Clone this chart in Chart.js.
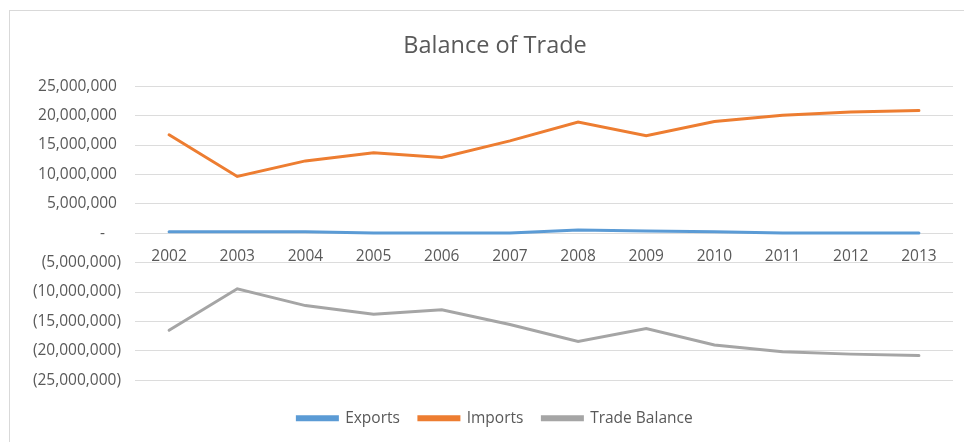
<!DOCTYPE html>
<html>
<head>
<meta charset="utf-8">
<script src="https://cdn.jsdelivr.net/npm/chart.js@4"></script>
<style>
  html, body { margin: 0; padding: 0; background: #ffffff; overflow: hidden; }
  #frame {
    position: absolute; left: 9px; top: 10px; width: 955px; height: 432px;
    border-left: 1px solid #d9d9d9; border-top: 1px solid #d9d9d9;
  }
  #wrap { position: absolute; left: 0; top: 0; width: 964px; height: 442px; overflow: hidden; }
</style>
</head>
<body>
<div id="frame"></div>
<div id="wrap"><canvas id="chart" width="980" height="442"></canvas></div>
<script>
// Years shown on the category axis
const years = ['2002', '2003', '2004', '2005', '2006', '2007', '2008', '2009', '2010', '2011', '2012', '2013'];

// Annual trade values
const exportsValues = [250000, 250000, 250000, 50000, 50000, 50000, 550000, 400000, 250000, 50000, 50000, 50000];
const importsValues = [16750000, 9650000, 12300000, 13700000, 12900000, 15700000, 18900000, 16600000, 19000000, 20050000, 20600000, 20850000];
const tradeBalanceValues = [-16500000, -9450000, -12300000, -13750000, -13000000, -15500000, -18400000, -16200000, -19000000, -20150000, -20550000, -20800000];

// Value axis range and step
const axisMin = -25000000;
const axisMax = 25000000;
const axisStep = 5000000;

const textColor = '#595959';
const gridColor = '#dcdcdc';
const fontFamily = '"Open Sans", "Liberation Sans", sans-serif';

// Accounting-style number format: negatives in parentheses, zero as a dash
function accounting(v) {
  if (v === 0) return '-    ';
  const s = Math.abs(v).toLocaleString('en-US');
  return v < 0 ? '(' + s + ')' : s + ' ';
}

new Chart(document.getElementById('chart'), {
  type: 'line',
  data: {
    labels: years,
    datasets: [
      { label: 'Exports', data: exportsValues, borderColor: '#5B9BD5', backgroundColor: '#5B9BD5' },
      { label: 'Imports', data: importsValues, borderColor: '#ED7D31', backgroundColor: '#ED7D31' },
      { label: 'Trade Balance', data: tradeBalanceValues, borderColor: '#A5A5A5', backgroundColor: '#A5A5A5' }
    ]
  },
  options: {
    responsive: false,
    animation: false,
    devicePixelRatio: 1,
    elements: {
      line: { borderWidth: 3, tension: 0, borderCapStyle: 'round' },
      point: { radius: 0, hoverRadius: 0 }
    },
    layout: { padding: { left: 10, right: 0, top: 11, bottom: 6 } },
    plugins: {
      title: {
        display: true,
        text: 'Balance of Trade',
        color: textColor,
        font: { family: fontFamily, size: 23.5, weight: 'normal' },
        padding: { top: 21, bottom: 26 }
      },
      legend: {
        position: 'bottom',
        title: { display: true, text: '', font: { size: 1 }, padding: { top: 0, bottom: 10 } },
        labels: {
          color: textColor,
          font: { family: fontFamily, size: 15.5 },
          boxWidth: 40,
          boxHeight: 3,
          padding: 19
        }
      },
      tooltip: { enabled: false }
    },
    scales: {
      x: {
        type: 'category',
        position: { y: 0 },
        offset: true,
        grid: { display: false, drawTicks: false },
        border: { display: false },
        ticks: {
          color: textColor,
          font: { family: fontFamily, size: 15.5 },
          padding: 14,
          maxRotation: 0,
          autoSkip: false
        }
      },
      y: {
        min: axisMin,
        max: axisMax,
        grid: { color: gridColor, lineWidth: 1, drawTicks: false },
        border: { display: false },
        ticks: {
          stepSize: axisStep,
          color: textColor,
          font: { family: fontFamily, size: 15.5 },
          padding: 14,
          callback: (v) => accounting(v)
        },
        afterFit: (scale) => { scale.width = 125; }
      },
      // Empty right-hand margin box so the chart area ends short of the canvas edge
      yRight: {
        type: 'linear',
        position: 'right',
        display: true,
        grid: { display: false, drawTicks: false },
        border: { display: false },
        ticks: { display: false },
        afterFit: (scale) => { scale.width = 27; }
      }
    }
  }
});
</script>
</body>
</html>
